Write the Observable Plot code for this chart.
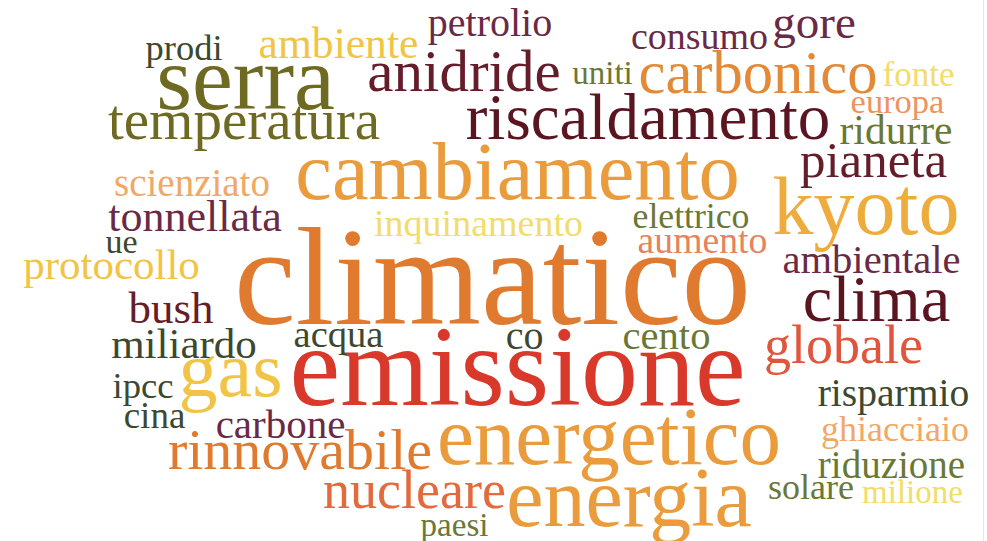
<!DOCTYPE html>
<html>
<head>
<meta charset="utf-8">
<script src="https://cdn.jsdelivr.net/npm/d3@7"></script>
<script src="https://cdn.jsdelivr.net/npm/@observablehq/plot@0.6"></script>
<style>
  html, body { margin: 0; padding: 0; background: #fff; }
  #wrap { position: relative; width: 987px; height: 541px; overflow: hidden; }
  #edge { position: absolute; left: 983px; top: 0; width: 1px; height: 541px; background: #e6e6e6; }
</style>
</head>
<body>
<div id="wrap"><div id="edge"></div></div>
<script>
// Word cloud data: word, weight (font size), layout position (centre x, baseline y), colour group
const words = ["climatico","emissione","cambiamento","energetico","energia","kyoto","serra","temperatura",
  "anidride","riscaldamento","carbonico","clima","globale","gas","rinnovabile","nucleare","pianeta",
  "petrolio","ambiente","prodi","consumo","gore","uniti","fonte","europa","ridurre","scienziato",
  "tonnellata","ue","protocollo","inquinamento","elettrico","aumento","ambientale","bush","miliardo",
  "acqua","co","cento","ipcc","cina","carbone","risparmio","ghiacciaio","riduzione","solare","milione","paesi"];
const weights = [139,114,82.5,83,84,82,92,57,
  59,65,60.6,66.5,54,78,58,54,51,
  40,43.6,36.5,38,47,33,35,34.5,41.5,39,
  44,34,43,38,35.7,37.7,40.6,45,43,
  38.6,40,40.6,36.6,37,41,39.6,36,39,36,33,33];
const xs = [492,517,517,608.5,628.5,865.5,245,243.5,
  463.5,647.5,757.5,876,843,230,299.5,414,873,
  489.5,338,183.5,699,813.5,602,918,897,895.5,191.5,
  194.5,121,111,478,690.5,702,871,170.5,183.5,
  338,524,666,142.5,154,280,893,894.5,891,810.5,912,454];
const ys = [323,404,198,463,525,233,108,138,
  90,138,92,320,362,395,468,507,176,
  35,57,59,48,37,83,85,112,143,195,
  230,252,278,235,227,252,272,322,357,
  346,348,348,397,427,437,405,440,477,498,502,535];
const groups = ["orange","red","lightorange","lightorange","lightorange","amber","olive","olive",
  "maroon","darkmaroon","carrot","darkmaroon","redorange","yellow","orange","vermilion","maroon",
  "plum","yellow","darkgreen","plum","plum","green","paleyellow","salmon","green","peach",
  "plum","darkgreen","yellow","paleyellow","green","coral","plum","maroon","darkgreen",
  "darkgreen","darkgreen","green","darkgreen","darkgreen","plum","darkgreen","peach","green","green","paleyellow","green"];

const groupNames = ["darkmaroon","maroon","plum","red","redorange","vermilion","orange","carrot","lightorange","amber","yellow","paleyellow","coral","salmon","peach","olive","green","darkgreen"];
const palette    = ["#5a1520","#651d2a","#6a2a45","#d9392b","#e0553c","#e26a3c","#e07a2e","#e38a38","#ea9c3c","#eeac3c","#f1c446","#f2dc6a","#e8825c","#ec9460","#f1a866","#6e6a22","#6a7836","#3c4830"];

const data = words.map((w, i) => ({word: w, size: weights[i], x: xs[i], y: ys[i], group: groups[i]}));

const chart = Plot.plot({
  width: 987,
  height: 541,
  margin: 0,
  x: {domain: [0, 987], range: [0, 987], axis: null},
  y: {domain: [0, 541], range: [0, 541], axis: null},
  color: {type: "ordinal", domain: groupNames, range: palette},
  style: {background: "transparent"},
  marks: [
    Plot.text(data, {
      x: "x",
      y: "y",
      text: "word",
      fontSize: d => d.size,
      fill: "group",
      textAnchor: "middle",
      lineAnchor: "bottom",
      fontFamily: "Liberation Serif"
    })
  ]
});
document.getElementById("wrap").appendChild(chart);
</script>
</body>
</html>
